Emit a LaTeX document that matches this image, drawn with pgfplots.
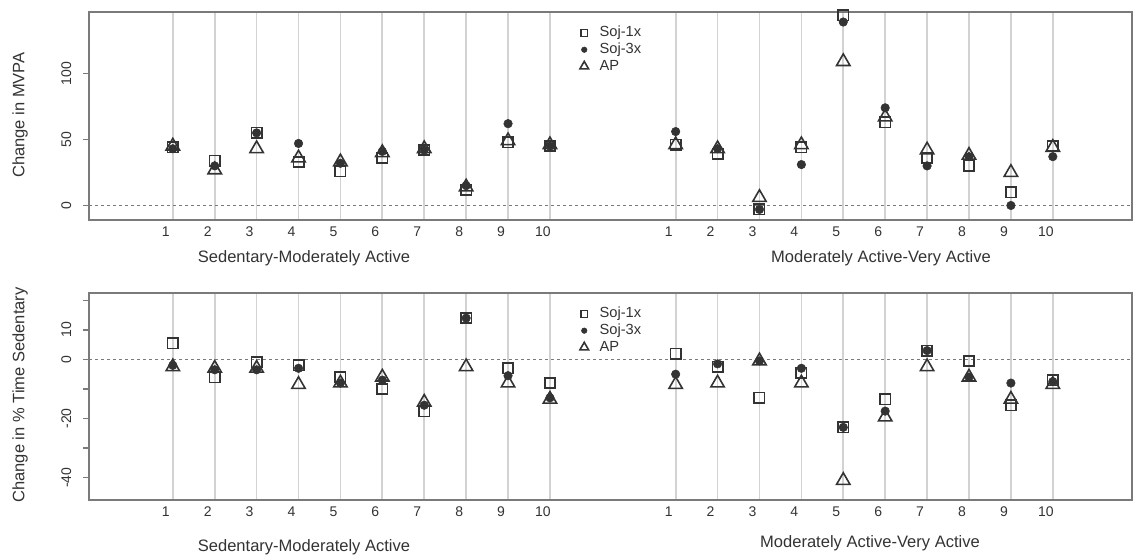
\documentclass[border=0pt]{standalone}
\usepackage{fontspec}
\setmainfont{Liberation Sans}
\usepackage{pgfplots}
\usepackage{pgfplotstable}
\pgfplotsset{compat=1.18}

% change in MVPA, by participant (1-10 and 13-22 on the x axis)
\pgfplotstableread{
x   soja   sojc   ap
1   44     43     45
2   34     30     27
3   55     55     43
4   33     47     36
5   26     32     33
6   36     41     40
7   42     42     43
8   12     15     14
9   48     62     49
10  45     45     46
13  46     56     46
14  39     43     43
15  -3     -3     6
16  44     31     46
17  144    139    109
18  63     74     67
19  36     30     42
20  30     37     38
21  10     0      25
22  45     37     44
}\mvpa

% change in % time sedentary
\pgfplotstableread{
x   soja   sojc   ap
1   5.5    -2     -2.5
2   -6     -3.5   -3
3   -1     -3.5   -3
4   -2     -3     -8.5
5   -6     -8     -8
6   -10    -7     -6
7   -17.5  -15.5  -14.5
8   14     14     -2.5
9   -3     -5.5   -8
10  -8     -13    -13.5
13  2      -5     -8.5
14  -2.5   -1.5   -8
15  -13    -0.5   -0.5
16  -4.5   -3     -8
17  -23    -23    -41
18  -13.5  -17.5  -19.5
19  3      3      -2.5
20  -0.5   -6     -6
21  -15.5  -8     -13.5
22  -7     -7.5   -8.5
}\sed

\definecolor{ink}{HTML}{333333}
\definecolor{frame}{HTML}{7A7A7A}
\definecolor{gridc}{HTML}{D2D2D2}

\pgfplotsset{
  panel/.style={
    scale only axis,
    width=782.25pt,
    xmin=-1, xmax=23.89,
    axis line style={frame, line width=1.1pt},
    clip=false,
    xtick={1,2,3,4,5,6,7,8,9,10,13,14,15,16,17,18,19,20,21,22},
    xticklabels={1,2,3,4,5,6,7,8,9,10,1,2,3,4,5,6,7,8,9,10},
    xmajorgrids,
    major x grid style={gridc, line width=1.3pt},
    x tick style={draw=none},
    xticklabel style={xshift=-5.25pt, yshift=2.75pt},
    ytick pos=left,
    tick align=outside,
    major tick length=4.5pt,
    y tick style={frame, line width=1pt},
    yticklabel style={rotate=90, anchor=south},
    yticklabel shift=5.25pt,
    tick label style={font=\fontsize{10.5}{12}\selectfont, text=ink},
    legend style={draw=none, fill=none, inner sep=0pt,
      font=\fontsize{11}{12}\selectfont, text=ink,
      nodes={inner sep=1pt, text height=8pt, text depth=2.5pt},
      row sep=0pt},
    legend cell align=left,
    legend image code/.code={
      \path[draw=none] (0pt,0pt) -- (16.5pt,0pt);
      \path[#1, draw=none, /tikz/only marks,
        /tikz/every mark/.append style={scale=0.65}]
        plot coordinates {(6pt,0pt)};},
  },
  soja/.style={only marks, mark=square, mark size=3.9pt,
    mark options={draw=ink, line width=1.2pt, fill=none}},
  sojc/.style={only marks, mark=*, mark size=3.2pt,
    mark options={draw=ink, fill=ink}},
  apm/.style={only marks, mark=triangle, mark size=5.8pt,
    mark options={draw=ink, line width=1.2pt, fill=none}},
  zero/.style={no marks, frame, line width=0.9pt, dash pattern=on 2pt off 2.5pt},
}

\begin{document}
\begin{tikzpicture}
\useasboundingbox (0pt,0pt) rectangle (849.75pt,-419.25pt);

% upper panel
\begin{axis}[panel, at={(66.75pt,-9pt)}, anchor=north west,
  height=156pt, ymin=-11, ymax=146.6,
  ytick={0,50,100}, yticklabels={0,50,100},
  legend style={at={(axis description cs:0.4669,0.94)}, anchor=north west}]
\addplot[zero, forget plot] coordinates {(-1,0) (23.89,0)};
\addplot[soja] table[x=x, y=soja] {\mvpa};
\addplot[sojc] table[x=x, y=sojc] {\mvpa};
\addplot[apm] table[x=x, y=ap] {\mvpa};
\legend{Soj-1x, Soj-3x, AP}
\end{axis}

% lower panel
\begin{axis}[panel, at={(66.75pt,-219.75pt)}, anchor=north west,
  height=155.25pt, ymin=-47.6, ymax=22.5,
  ytick={-40,-30,-20,-10,0,10,20},
  yticklabels={-40,,-20,,0,10,},
  legend style={at={(axis description cs:0.4669,0.94)}, anchor=north west}]
\addplot[zero, forget plot] coordinates {(-1,0) (23.89,0)};
\addplot[soja] table[x=x, y=soja] {\sed};
\addplot[sojc] table[x=x, y=sojc] {\sed};
\addplot[apm] table[x=x, y=ap] {\sed};
\legend{Soj-1x, Soj-3x, AP}
\end{axis}

% axis titles
\begin{scope}[every node/.style={font=\fontsize{12.4}{14}\selectfont, text=ink}]
\node[rotate=90] at (15pt,-86.25pt) {Change in MVPA};
\node[rotate=90] at (15pt,-296.25pt) {Change in \% Time Sedentary};
\node at (228pt,-193.5pt) {Sedentary-Moderately Active};
\node at (660.75pt,-193.5pt) {Moderately Active-Very Active};
\node at (228pt,-410.25pt) {Sedentary-Moderately Active};
\node at (652.5pt,-407.25pt) {Moderately Active-Very Active};
\end{scope}
\end{tikzpicture}
\end{document}
